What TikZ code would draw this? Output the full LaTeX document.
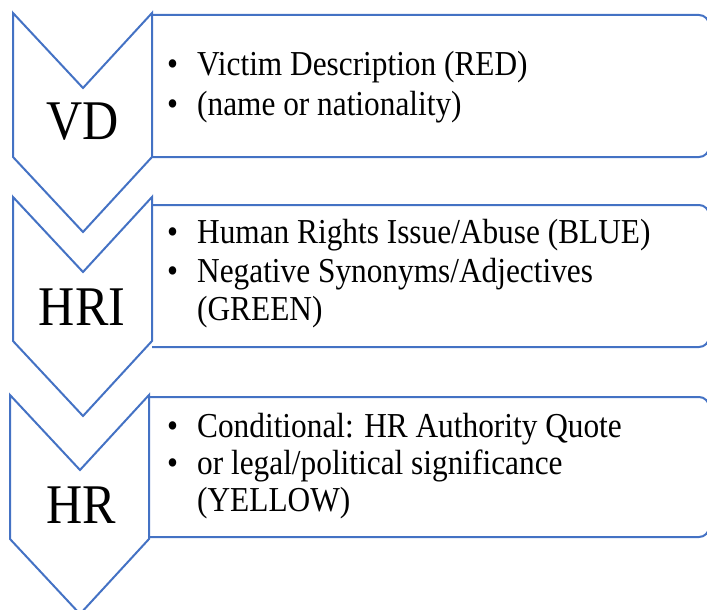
\documentclass[tikz,border=0pt]{standalone}
\usepackage{fontspec}
\setmainfont[FakeStretch=0.895]{Liberation Serif}
\usetikzlibrary{positioning}
\definecolor{chevblue}{RGB}{68,114,196}

% bullet with a fixed indent, so the text lines up
\newcommand{\bul}{\makebox[30pt][l]{\textbullet}}
\newcommand{\nobul}{\hspace*{30pt}}

\begin{document}
\begin{tikzpicture}[x=1pt,y=-1pt,
                chev/.style={draw=chevblue,line width=2pt,line join=miter},
                infobox/.style={draw=chevblue,line width=2pt,rounded corners=10pt},
                tag/.style={font=\fontsize{56}{62}\selectfont,inner sep=0pt},
                item/.style={font=\fontsize{35}{40}\selectfont,anchor=base west,inner sep=0pt}]
             \useasboundingbox (0,0) rectangle (707,610);
             % chevrons: left x, top y
             \foreach \cx/\cy in {13/13, 13/197, 10/395}
                \draw[chev] (\cx,\cy) -- ++(70,75) -- ++(69,-75) -- ++(0,144)
                            -- ++(-69,75) -- ++(-70,-75) -- cycle;
             % boxes beside them, open on the chevron side
             \foreach \bx/\top/\bot in {152/15/157, 152/205/347, 148/397/537}
                \draw[infobox] (\bx,\top) -| (709,\bot) -- (\bx,\bot);
             % labels
             \node[tag] (vd)  at (83,122) {VD};
             \node[tag] (hri) at (82,307) {HRI};
             \node[tag] (hr)  at (81,505) {HR};
             % first box
             \node[item] (vd1) at (167,75)  {\bul Victim Description (RED)};
             \node[item] (vd2) at (167,115) {\bul (name or nationality)};
             % second box
             \node[item] (hri1) at (167,243) {\bul Human Rights Issue/Abuse (BLUE)};
             \node[item] (hri2) at (167,282) {\bul Negative Synonyms/Adjectives};
             \node[item] (hri3) at (167,320) {\nobul (GREEN)};
             % third box
             \node[item] (hr1) at (167,437) {\bul Conditional: HR Authority Quote};
             \node[item] (hr2) at (167,474) {\bul or legal/political significance};
             \node[item] (hr3) at (167,511) {\nobul (YELLOW)};
\end{tikzpicture}
\end{document}
